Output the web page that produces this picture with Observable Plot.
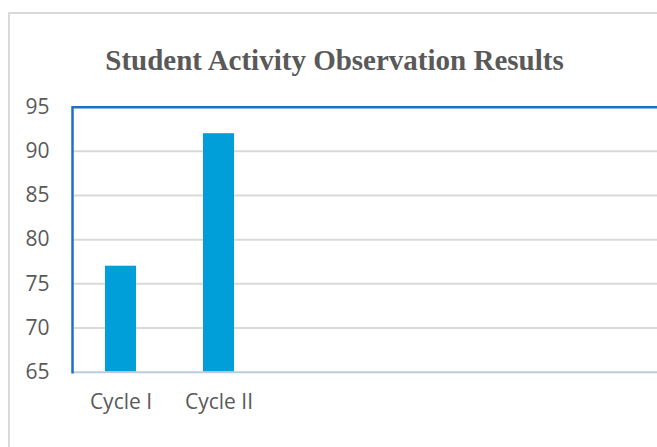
<!DOCTYPE html>
<html>
<head>
<meta charset="utf-8">
<script src="https://cdn.jsdelivr.net/npm/d3@7"></script>
<script src="https://cdn.jsdelivr.net/npm/@observablehq/plot@0.6"></script>
<style>
  html, body { margin: 0; padding: 0; background: #fff; }
  body { width: 657px; height: 447px; overflow: hidden; position: relative; }
  #border { position: absolute; left: 8px; top: 12px; width: 800px; height: 600px;
            border-left: 2px solid #d9d9d9; border-top: 2px solid #d9d9d9; }
  #title { position: absolute; left: 0; top: 44px; width: 669px; text-align: center;
           font-family: "Liberation Serif", serif; font-weight: bold; font-size: 29px;
           line-height: 32px; color: #595959; margin: 0; }
  #chart { position: absolute; left: 0; top: 80px; }
</style>
</head>
<body>
<div id="border"></div>
<h2 id="title">Student Activity Observation Results</h2>
<div id="chart"></div>
<script>
const categories = ["Cycle I", "Cycle II"];
const values = [77, 92];
const yMin = 65;
const yMax = 95;
const yTicks = [65, 70, 75, 80, 85, 90, 95];
const gridTicks = [70, 75, 80, 85, 90];

const data = categories.map((c, i) => ({category: c, value: values[i]}));

const font = "Open Sans, sans-serif";

const chart = Plot.plot({
  width: 657,
  height: 367,
  marginLeft: 72,
  marginRight: 0,
  marginTop: 26.7,
  marginBottom: 75.3,
  style: {fontFamily: font, fontSize: "21px", color: "#595959", background: "transparent"},
  x: {type: "band", domain: categories, range: [72, 268], paddingInner: 0.68, paddingOuter: 0.34, label: null},
  y: {domain: [yMin, yMax], label: null},
  marks: [
    Plot.ruleY(gridTicks, {stroke: "#d9d9d9", strokeWidth: 2}),
    Plot.barY(data, {x: "category", y1: yMin, y2: "value", fill: "#009fda"}),
    Plot.ruleY([yMin], {stroke: "#bccbe0", strokeWidth: 2}),
    Plot.ruleY([yMax], {stroke: "#1f6fc6", strokeWidth: 2.5}),
    Plot.frame({anchor: "left", stroke: "#1f6fc6", strokeWidth: 2.5}),
    Plot.axisY(yTicks, {tickSize: 0, tickPadding: 23, fill: "#595959", fontSize: 21}),
    Plot.axisX({tickSize: 0, tickPadding: 22, fill: "#595959", fontSize: 21})
  ]
});
document.getElementById("chart").appendChild(chart);
</script>
</body>
</html>
